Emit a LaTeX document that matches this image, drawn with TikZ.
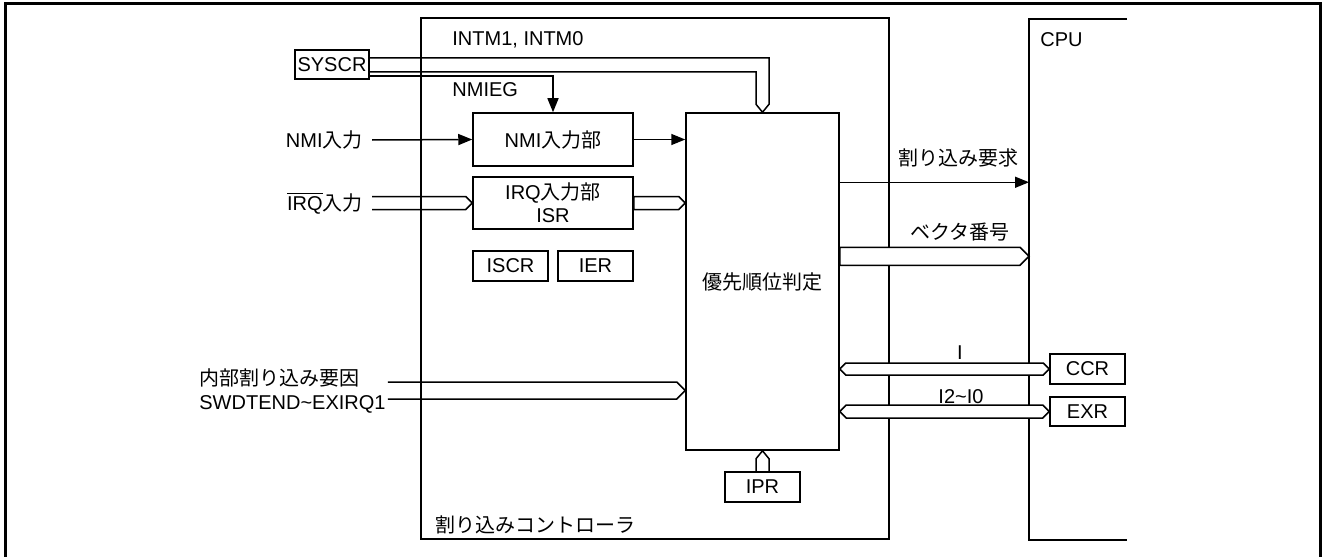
\documentclass[tikz,border=0pt]{standalone}
\usepackage{fontspec}
\setmainfont{Liberation Sans}
\newfontfamily\jp{Noto Sans CJK JP}
\usetikzlibrary{calc,arrows.meta}

\tikzset{
  box/.style={draw,line width=0.75pt,inner sep=0pt,align=center},
  sig/.style={line width=0.75pt,-{Triangle[length=7pt,width=5.5pt]}},
  bus/.style={line width=0.75pt,line join=miter},
  lbl/.style={inner sep=0pt,align=left},
}

\newcommand{\busright}[3]{%
  \draw [bus] let \p1=(#1), \p2=(#2) in
    ($(\x1,\y2)+(0,-#3)$) -- ($(\x2,\y2)+(-#3,-#3)$) -- (\x2,\y2)
    -- ($(\x2,\y2)+(-#3,#3)$) -- ($(\x1,\y2)+(0,#3)$);}
\newcommand{\busfill}[3]{%
  \filldraw [bus,fill=white] let \p1=(#1), \p2=(#2) in
    ($(\x1,\y2)+(0,-#3)$) -- ($(\x2,\y2)+(-#3,-#3)$) -- (\x2,\y2)
    -- ($(\x2,\y2)+(-#3,#3)$) -- ($(\x1,\y2)+(0,#3)$) -- cycle;}
\newcommand{\busboth}[3]{%
  \filldraw [bus,fill=white] let \p1=(#1), \p2=(#2) in
    (\x1,\y1) -- ($(\x1,\y1)+(#3,-#3)$) -- ($(\x2,\y1)+(-#3,-#3)$) -- (\x2,\y1)
    -- ($(\x2,\y1)+(-#3,#3)$) -- ($(\x1,\y1)+(#3,#3)$) -- cycle;}

\begin{document}
\begin{tikzpicture}[x=0.5pt,y=-0.5pt,font=\fontsize{10}{12}\selectfont]
  \useasboundingbox (0,0) rectangle (1325,556);
  \draw [line width=1.5pt] (5,560) -- (5,4) -- (1320,4) -- (1320,560);

  \node [box,minimum width=234pt,minimum height=260.5pt] (ctrl) at (655,278.5) {};
  \draw [bus] (1127,19) -- (1029,19) coordinate (cpu) -- (1029,540) -- (1127,540);

  \node [box,minimum width=37pt,minimum height=14.5pt] (syscr) at (332,64.5) {SYSCR};
  \node [box,minimum width=80pt,minimum height=26.5pt] (nmi) at (553,139.5) {NMI\jp 入力部};
  \node [box,minimum width=80pt,minimum height=26pt] (irq) at (553,203) {IRQ{\jp 入力部}\\[-0.5pt]ISR};
  \node [box,minimum width=37.5pt,minimum height=15pt] (iscr) at (510.5,266) {ISCR};
  \node [box,minimum width=37.5pt,minimum height=15pt] (ier) at (595.5,266) {IER};
  \node [box,minimum width=76.5pt,minimum height=168.5pt] (prio) at (762.5,281.5) {\jp 優先順位判定};
  \node [box,minimum width=37.5pt,minimum height=15pt] (ipr) at (762.5,487) {IPR};
  \node [box,minimum width=37.5pt,minimum height=15pt] (ccr) at (1087.5,369) {CCR};
  \node [box,minimum width=37.5pt,minimum height=14.5pt] (exr) at (1087.5,411.5) {EXR};

  \node [lbl,anchor=west] (intm) at (452,40) {INTM1, INTM0};
  \node [lbl,anchor=west] (nmieg) at (452,90) {NMIEG};
  \node [lbl,anchor=west] (cpulbl) at (1040,40) {CPU};
  \node [lbl,anchor=west] (ctrllbl) at (435,525) {\jp 割り込みコントローラ};
  \node [lbl,anchor=east] (nmiin) at (363,140) {NMI\jp 入力};
  \node [lbl,anchor=east] (irqin) at (363,203) {$\overline{\mbox{IRQ}}${\jp 入力}};
  \node [lbl,anchor=west] (intsrc) at (199,390.5) {{\jp 内部割り込み要因}\\SWDTEND\textasciitilde EXIRQ1};
  \node [lbl] (veclbl) at (960,232) {\jp ベクタ番号};
  \node [lbl] (ilbl) at (960,353) {I};
  \node [lbl] (i20lbl) at (961,397) {I2\textasciitilde I0};

  \draw [bus] ($(syscr.east)+(0,-6.5)$) -| ($(prio.north)+(6.5,-8)$) -- (prio.north)
    -- ($(prio.north)+(-6.5,-8)$) |- ($(syscr.east)+(0,7.5)$);
  \draw [sig] ($(syscr.east)+(0,11.5)$) -| (nmi.north);
  \draw [sig] ($(nmiin.east)+(9,0)$) -- (nmi.west);
  \draw [sig] (nmi.east) -- (nmi.east -| prio.west);
  \busright{$(irqin.east)+(9,0)$}{irq.west}{6.5}
  \busfill{irq.east}{irq.east -| prio.west}{6.5}
  \busright{$(intsrc.east)+(2,0)$}{intsrc.east -| prio.west}{8.5}
  \draw [bus] ($(ipr.north)+(-6.5,0)$) -- ($(prio.south)+(-6.5,8)$) -- (prio.south)
    -- ($(prio.south)+(6.5,8)$) -- ($(ipr.north)+(6.5,0)$);

  \coordinate (req) at ($(prio.north east)+(0,70)$);
  \coordinate (vec) at ($(prio.north east)+(0,144)$);
  \draw [sig] (req) -- (req -| cpu) node [pos=0.63,above=4pt] {\jp 割り込み要求};
  \busfill{vec}{vec -| cpu}{9}
  \busboth{ccr.west -| prio.east}{ccr.west}{6}
  \busboth{exr.west -| prio.east}{exr.west}{6.5}
\end{tikzpicture}
\end{document}
